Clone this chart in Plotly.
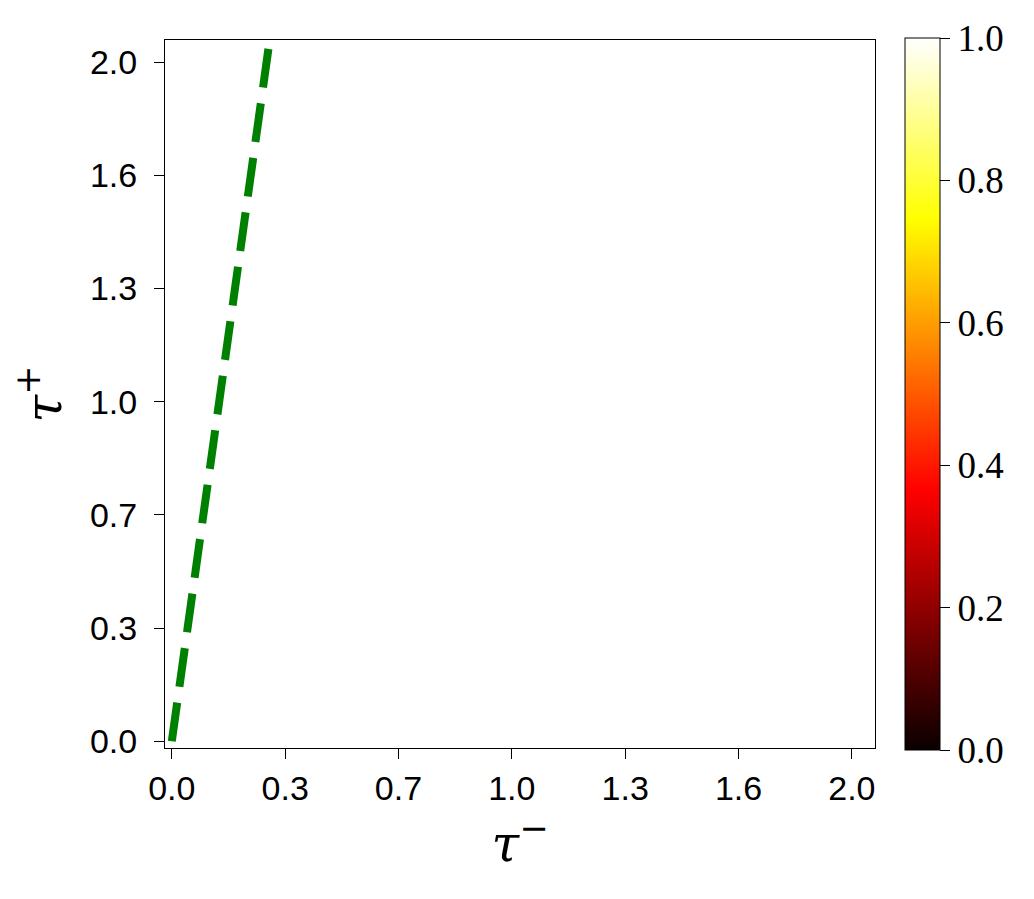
import plotly.graph_objects as go

# Grid of (tau-, tau+) values and the heatmap values (uniformly 1 -> white)
tau_minus = [0.0, 0.25, 0.5, 0.75, 1.0, 1.25, 1.5, 1.75, 2.0]
tau_plus = [0.0, 0.25, 0.5, 0.75, 1.0, 1.25, 1.5, 1.75, 2.0]
z_values = [[1.0] * len(tau_minus) for _ in tau_plus]

# Green dashed boundary line
line_x = [0.0, 0.285]
line_y = [0.0, 2.045]

# Tick positions and labels
tick_vals = [0.0, 1/3, 2/3, 1.0, 4/3, 5/3, 2.0]
tick_text = ["0.0", "0.3", "0.7", "1.0", "1.3", "1.6", "2.0"]
cbar_vals = [0.0, 0.2, 0.4, 0.6, 0.8, 1.0]
cbar_text = ["0.0", "0.2", "0.4", "0.6", "0.8", "1.0"]

hot = [[0.0, "rgb(10,0,0)"], [0.365, "rgb(255,0,0)"],
       [0.746, "rgb(255,255,0)"], [1.0, "rgb(255,255,255)"]]

fig = go.Figure()
fig.add_trace(go.Heatmap(
    x=tau_minus, y=tau_plus, z=z_values, zmin=0, zmax=1,
    colorscale=hot, hoverinfo="skip",
    colorbar=dict(
        x=1.042, xanchor="left", xref="paper", xpad=0,
        y=0.5, yanchor="middle", ypad=0,
        thickness=35, thicknessmode="pixels",
        len=712, lenmode="pixels",
        outlinewidth=1, outlinecolor="black",
        tickmode="array", tickvals=cbar_vals, ticktext=cbar_text,
        ticks="outside", ticklen=10, tickwidth=1, tickcolor="black",
        tickfont=dict(family="Liberation Serif", size=37, color="black"),
    ),
))
fig.add_trace(go.Scatter(
    x=line_x, y=line_y, mode="lines",
    line=dict(color="green", width=8, dash="39px,16px"),
    showlegend=False, hoverinfo="skip",
))

axis_common = dict(
    showgrid=False, zeroline=False, showline=True, linecolor="black",
    linewidth=1, mirror=True, ticks="outside", ticklen=10, tickwidth=1,
    tickcolor="black", tickmode="array", tickvals=tick_vals, ticktext=tick_text,
    tickfont=dict(family="Liberation Sans", size=34, color="black"),
)
fig.update_xaxes(range=[-0.02, 2.068],
                 title=dict(text="<i>τ</i><sup>−</sup>",
                            font=dict(family="DejaVu Serif", size=50, color="black"),
                            standoff=20),
                 **axis_common)
fig.update_yaxes(range=[-0.02, 2.065],
                 title=dict(text="<i>τ</i><sup>+</sup>",
                            font=dict(family="DejaVu Serif", size=50, color="black"),
                            standoff=30),
                 ticklabelstandoff=10,
                 **axis_common)

fig.update_layout(
    width=1026, height=891,
    margin=dict(l=157, r=159, t=32, b=151, pad=0),
    plot_bgcolor="white", paper_bgcolor="white",
    showlegend=False,
)

fig.write_html("out.html")
